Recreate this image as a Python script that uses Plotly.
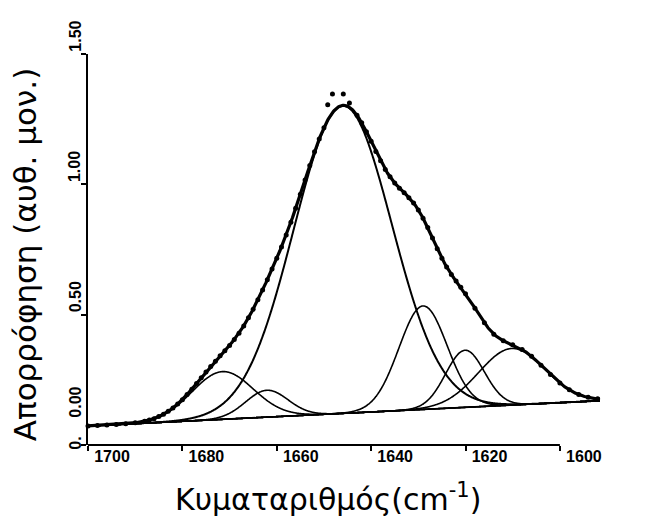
import numpy as np
import plotly.graph_objects as go

# Measured amide I spectrum: wavenumber (cm-1) and absorbance (arb. units)
wavenumber = [1700, 1698, 1696, 1694, 1692, 1690, 1688, 1687, 1686, 1685,
              1684, 1683, 1682, 1681, 1680, 1679, 1678, 1677, 1676, 1675,
              1674, 1673, 1672, 1671, 1670, 1669, 1668, 1667, 1666, 1665,
              1664, 1663, 1662, 1661, 1660, 1659, 1658, 1657, 1656, 1655,
              1654, 1653, 1652, 1651, 1650, 1649.2, 1648.2, 1645.9, 1644.6, 1643,
              1642, 1641, 1640, 1639, 1638, 1637, 1636, 1635, 1634, 1633,
              1632, 1631, 1630, 1629, 1628, 1627, 1626, 1625, 1624, 1623,
              1622, 1621, 1620, 1618, 1616, 1614, 1612, 1610, 1608, 1606,
              1604, 1602, 1600, 1598, 1596, 1594, 1592]
absorbance = [0.073, 0.075, 0.077, 0.079, 0.082, 0.085, 0.091, 0.096, 0.101, 0.109,
              0.118, 0.129, 0.142, 0.157, 0.174, 0.194, 0.214, 0.236, 0.258, 0.280,
              0.301, 0.321, 0.342, 0.362, 0.382, 0.405, 0.429, 0.457, 0.488, 0.521,
              0.557, 0.595, 0.634, 0.675, 0.716, 0.760, 0.806, 0.855, 0.908, 0.962,
              1.017, 1.072, 1.125, 1.174, 1.217, 1.305, 1.347, 1.347, 1.312, 1.265,
              1.236, 1.202, 1.165, 1.126, 1.090, 1.057, 1.029, 1.005, 0.985, 0.968,
              0.949, 0.928, 0.902, 0.870, 0.834, 0.794, 0.753, 0.716, 0.683, 0.654,
              0.629, 0.605, 0.580, 0.525, 0.469, 0.425, 0.400, 0.385, 0.366, 0.340,
              0.306, 0.270, 0.238, 0.212, 0.194, 0.183, 0.177]

# Fitted Gaussian bands: centre (cm-1), height above baseline, width (sigma, cm-1)
band_centres = [1646.0, 1671.5, 1662.1, 1629.0, 1620.1, 1610.2]
band_heights = [1.18, 0.183, 0.103, 0.397, 0.219, 0.217]
band_sigmas = [10.4, 6.5, 4.5, 5.1, 4.1, 7.0]

# Linear baseline end points
baseline_x = [1591.5, 1700]
baseline_y = [0.170, 0.073]

x_ticks = [1700, 1680, 1660, 1640, 1620, 1600]
y_ticks = [0.0, 0.5, 1.0, 1.5]
y_tick_text = ["0.", "0.50", "1.00", "1.50"]

X_MIN, X_MAX = 1591.5, 1700
Y_MAX = 1.5
grid = np.linspace(X_MAX, X_MIN, 700)
base = np.interp(grid, baseline_x, baseline_y)


def band(c, h, s):
    return h * np.exp(-((grid - c) ** 2) / (2 * s ** 2))


bands = [band(c, h, s) for c, h, s in zip(band_centres, band_heights, band_sigmas)]
fit = base + np.sum(bands, axis=0)

fig = go.Figure()

# baseline
fig.add_trace(go.Scatter(x=baseline_x, y=baseline_y, mode="lines",
                         line=dict(color="black", width=1.6), hoverinfo="skip"))
# individual bands
for i, b in enumerate(bands):
    fig.add_trace(go.Scatter(x=grid, y=base + b, mode="lines",
                             line=dict(color="black", width=2.0 if i == 0 else 1.6,
                                       shape="spline"),
                             hoverinfo="skip"))
# sum of bands
fig.add_trace(go.Scatter(x=grid, y=fit, mode="lines",
                         line=dict(color="black", width=3.2)))
# measured points
fig.add_trace(go.Scatter(x=wavenumber, y=absorbance, mode="markers",
                         marker=dict(color="black", size=5), cliponaxis=False))

tick_font = dict(family="Liberation Sans, Arial, sans-serif", size=16, color="black",
                 weight="bold")
title_font = dict(family="DejaVu Sans, sans-serif", size=30, color="black")

# y tick labels run upwards from their tick
annotations = []
for v, t in zip(y_ticks, y_tick_text):
    yv = (v - 0.027) / Y_MAX if v == 0 else v / Y_MAX
    annotations.append(dict(text=t, xref="paper", yref="paper", x=-0.025, y=yv,
                            xanchor="center", yanchor="bottom", textangle=-90,
                            showarrow=False, font=tick_font))
annotations.append(dict(text="0.00", xref="paper", yref="paper", x=-0.025,
                        y=0.096 / Y_MAX, xanchor="center", yanchor="bottom",
                        textangle=-90, showarrow=False, font=tick_font))
annotations.append(dict(text="Κυματαριθμός(cm<sup>-1</sup>)", xref="paper",
                        yref="paper", x=0.469, y=-0.133, xanchor="center",
                        yanchor="middle", showarrow=False, font=title_font))
annotations.append(dict(text="Απορρόφηση (αυθ. μον.)", xref="paper", yref="paper",
                        x=-0.123, y=0.488, xanchor="center", yanchor="middle",
                        textangle=-90, showarrow=False,
                        font=dict(title_font, size=31)))

fig.update_layout(
    width=654, height=516,
    margin=dict(l=88, r=54, t=54, b=71),
    paper_bgcolor="white", plot_bgcolor="white",
    showlegend=False,
    annotations=annotations,
    shapes=[dict(type="line", xref="x", yref="paper", x0=1700, x1=1600, y0=0, y1=0,
                 line=dict(color="black", width=2))],
)
fig.update_xaxes(range=[X_MAX, X_MIN], tickvals=x_ticks, ticks="outside", ticklen=5,
                 tickwidth=2, tickcolor="black", showgrid=False, zeroline=False,
                 showline=False, tickfont=tick_font, ticklabelshift=-24,
                 ticklabelstandoff=-8)
fig.update_yaxes(range=[0, Y_MAX], tickvals=y_ticks, ticks="outside", ticklen=5,
                 tickwidth=2, tickcolor="black", showgrid=False, zeroline=False,
                 showline=True, linecolor="black", linewidth=2,
                 showticklabels=False)

fig.write_html("out.html")
